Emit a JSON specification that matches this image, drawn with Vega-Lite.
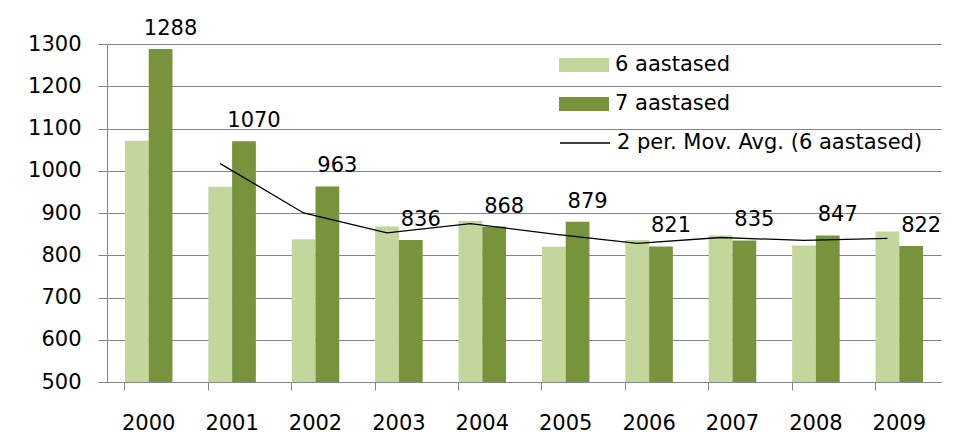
{
  "$schema": "https://vega.github.io/schema/vega-lite/v6.json",
  "width": 834,
  "height": 338,
  "autosize": {"type": "none"},
  "padding": {"left": 107, "top": 44, "right": 17, "bottom": 64},
  "background": "white",
  "config": {"font": "DejaVu Sans", "view": {"stroke": null}},
  "datasets": {
    "bars": [
      {"year": "2000", "series": "6 aastased", "value": 1071},
      {"year": "2000", "series": "7 aastased", "value": 1288},
      {"year": "2001", "series": "6 aastased", "value": 962},
      {"year": "2001", "series": "7 aastased", "value": 1070},
      {"year": "2002", "series": "6 aastased", "value": 838},
      {"year": "2002", "series": "7 aastased", "value": 963},
      {"year": "2003", "series": "6 aastased", "value": 868},
      {"year": "2003", "series": "7 aastased", "value": 836},
      {"year": "2004", "series": "6 aastased", "value": 881},
      {"year": "2004", "series": "7 aastased", "value": 868},
      {"year": "2005", "series": "6 aastased", "value": 820},
      {"year": "2005", "series": "7 aastased", "value": 879},
      {"year": "2006", "series": "6 aastased", "value": 836},
      {"year": "2006", "series": "7 aastased", "value": 821},
      {"year": "2007", "series": "6 aastased", "value": 847},
      {"year": "2007", "series": "7 aastased", "value": 835},
      {"year": "2008", "series": "6 aastased", "value": 823},
      {"year": "2008", "series": "7 aastased", "value": 847},
      {"year": "2009", "series": "6 aastased", "value": 856},
      {"year": "2009", "series": "7 aastased", "value": 822}
    ],
    "ma": [
      {"year": "2001", "series": "6 aastased", "ma": 1017},
      {"year": "2002", "series": "6 aastased", "ma": 900},
      {"year": "2003", "series": "6 aastased", "ma": 853},
      {"year": "2004", "series": "6 aastased", "ma": 875},
      {"year": "2005", "series": "6 aastased", "ma": 850},
      {"year": "2006", "series": "6 aastased", "ma": 828},
      {"year": "2007", "series": "6 aastased", "ma": 842},
      {"year": "2008", "series": "6 aastased", "ma": 835},
      {"year": "2009", "series": "6 aastased", "ma": 840}
    ]
  },
  "layer": [
    {
      "data": {"name": "bars"},
      "mark": {"type": "bar", "clip": true},
      "encoding": {
        "x": {
          "field": "year", "type": "nominal",
          "scale": {"paddingInner": 0.43, "paddingOuter": 0.215},
          "axis": {
            "title": null, "labelAngle": 0, "bandPosition": 0,
            "domainColor": "#868686", "tickColor": "#868686", "tickSize": 8,
            "labelFontSize": 21, "labelColor": "#000000", "labelPadding": 22, "grid": false
          }
        },
        "xOffset": {"field": "series", "type": "nominal", "scale": {"domain": ["6 aastased", "7 aastased"]}},
        "y": {
          "field": "value", "type": "quantitative",
          "scale": {"domain": [500, 1300], "nice": false, "zero": false},
          "axis": {
            "title": null, "values": [500, 600, 700, 800, 900, 1000, 1100, 1200, 1300], "format": "d",
            "grid": true, "gridColor": "#868686", "gridWidth": 1,
            "domainColor": "#868686", "tickColor": "#868686", "tickSize": 9,
            "labelFontSize": 21, "labelColor": "#000000", "labelPadding": 17
          }
        },
        "fill": {
          "field": "series", "type": "nominal",
          "scale": {"domain": ["6 aastased", "7 aastased"], "range": ["#C3D69B", "#77933C"]},
          "legend": {
            "title": null, "orient": "none", "legendX": 452, "legendY": 8.5,
            "symbolType": "M-1,-0.28H1V0.28H-1Z", "symbolSize": 2500, "symbolStrokeWidth": 0,
            "labelFontSize": 21, "labelColor": "#000000", "labelOffset": 6,
            "clipHeight": 25, "rowPadding": 14, "padding": 0, "labelLimit": 400
          }
        }
      }
    },
    {
      "data": {"name": "ma"},
      "mark": {"type": "line", "strokeWidth": 1.3},
      "encoding": {
        "x": {"field": "year", "type": "nominal"},
        "xOffset": {"field": "series", "type": "nominal"},
        "y": {"field": "ma", "type": "quantitative"},
        "stroke": {
          "datum": "2 per. Mov. Avg. (6 aastased)",
          "scale": {"range": ["#000000"]},
          "legend": {
            "title": null, "orient": "none", "legendX": 452, "legendY": 86.5,
            "symbolType": "stroke", "symbolSize": 2500, "symbolStrokeWidth": 1.3,
            "labelFontSize": 21, "labelColor": "#000000", "labelOffset": 6,
            "clipHeight": 25, "padding": 0, "labelLimit": 400
          }
        }
      }
    },
    {
      "data": {"name": "bars"},
      "transform": [{"filter": "datum.series === '7 aastased'"}],
      "mark": {"type": "text", "fontSize": 21, "color": "#000000", "baseline": "alphabetic", "dx": 10, "dy": -14},
      "encoding": {
        "x": {"field": "year", "type": "nominal"},
        "xOffset": {"field": "series", "type": "nominal"},
        "y": {"field": "value", "type": "quantitative"},
        "text": {"field": "value", "type": "quantitative"}
      }
    }
  ]
}
